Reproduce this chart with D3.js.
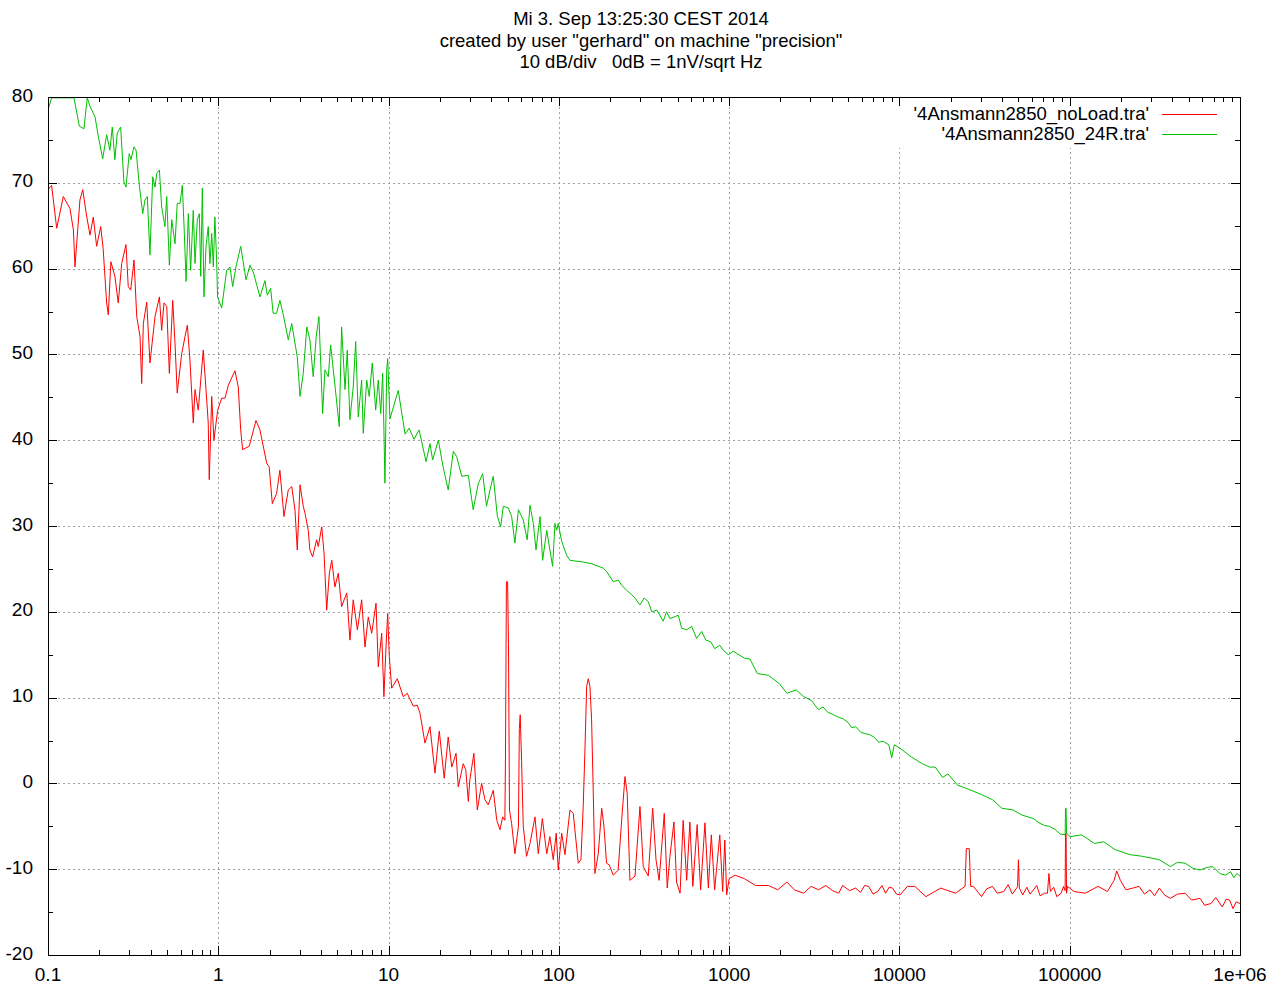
<!DOCTYPE html>
<html>
<head>
<meta charset="utf-8">
<script src="https://cdn.jsdelivr.net/npm/d3@7"></script>
<style>
  body { margin: 0; background: #fff; }
  svg { display: block; }
  text { font-family: "Liberation Sans", Arial, sans-serif; fill: #000; }
</style>
</head>
<body>
<div id="chart"></div>
<script>
// title lines (gnuplot header)
let titleLines = [
  'Mi 3. Sep 13:25:30 CEST 2014',
  'created by user "gerhard" on machine "precision"',
  '10 dB/div   0dB = 1nV/sqrt Hz'
]

let xTicks = [0.1, 1, 10, 100, 1000, 10000, 100000, 1000000]
let xTickLabels = ['0.1', '1', '10', '100', '1000', '10000', '100000', '1e+06']
let yTicks = [-20, -10, 0, 10, 20, 30, 40, 50, 60, 70, 80]

let seriesNames = ["'4Ansmann2850_noLoad.tra'", "'4Ansmann2850_24R.tra'"]
let seriesColors = ['#ff0000', '#00c000']

// [frequency Hz, dB]
let noLoad = [
  [0.1, 69.2], [0.105, 69.7], [0.1125, 64.7], [0.123, 68.4], [0.1346, 67.0], [0.141, 64.5],
  [0.144, 60.2], [0.154, 68.0], [0.16, 69.2], [0.169, 66.0], [0.1765, 63.9], [0.1845, 66.0],
  [0.193, 62.6], [0.204, 64.9], [0.211, 62.2], [0.221, 56.0], [0.226, 54.6], [0.234, 60.8],
  [0.247, 59.1], [0.2585, 56.0], [0.271, 60.6], [0.287, 62.8], [0.296, 57.9], [0.306, 57.5],
  [0.32, 61.0], [0.332, 54.4], [0.347, 52.1], [0.355, 46.6], [0.363, 53.6], [0.38, 56.1],
  [0.397, 49.0], [0.425, 54.4], [0.451, 56.7], [0.465, 52.8], [0.48, 56.0], [0.498, 55.6],
  [0.516, 47.8], [0.54, 56.3], [0.557, 51.3], [0.574, 45.5], [0.61, 50.1], [0.638, 52.1],
  [0.658, 53.4], [0.682, 49.3], [0.713, 42.0], [0.73, 45.9], [0.763, 43.5], [0.816, 50.5],
  [0.847, 45.9], [0.873, 42.0], [0.885, 35.4], [0.915, 45.1], [0.943, 40.0], [0.97, 42.0],
  [0.992, 43.5],
  [1.047, 44.9], [1.095, 44.9], [1.145, 46.4], [1.253, 48.1], [1.31, 46.2], [1.354, 41.2],
  [1.39, 38.9], [1.52, 39.3], [1.664, 42.3], [1.757, 41.2], [1.925, 37.3], [1.99, 36.9],
  [2.076, 32.6], [2.2, 33.8], [2.3, 36.5], [2.43, 31.1], [2.576, 34.2], [2.7, 34.6],
  [2.82, 31.9], [2.91, 27.2], [3.02, 34.8], [3.155, 32.3], [3.23, 31.5], [3.376, 29.5],
  [3.45, 27.2], [3.58, 26.4], [3.78, 28.4], [3.865, 27.6], [4.05, 29.9], [4.18, 26.8],
  [4.33, 20.2], [4.49, 24.5], [4.64, 26.0], [4.84, 22.9], [5.065, 24.5], [5.3, 20.6],
  [5.68, 22.2], [5.93, 16.7], [6.2, 21.4], [6.56, 17.9], [6.95, 21.4], [7.27, 15.9],
  [7.6, 19.4], [7.96, 17.5], [8.44, 21.0], [8.7, 13.6], [9.11, 17.5], [9.39, 10.1],
  [9.66, 15.9], [9.88, 19.8],
  [10.1, 14.8], [10.43, 11.1], [11.25, 12.2], [12.2, 10.1], [12.87, 10.5], [13.97, 9.0],
  [14.74, 9.1], [15.29, 8.2], [16.36, 4.7], [17.5, 6.6], [18.73, 1.2], [19.85, 6.1],
  [21.22, 0.6], [22.4, 5.4], [23.5, 1.9], [24.9, 3.5], [25.66, -0.4], [27.45, 2.3],
  [28.4, 1.6], [29.4, -2.1], [30.0, 0.4], [31.7, 3.5], [33.2, -3.1], [35.2, 0.0],
  [36.8, -1.9], [38.5, -2.5], [41.2, -0.8], [43.2, -4.3], [45.1, -5.4], [46.8, -3.9],
  [48.2, -4.3], [48.6, 3.3], [49.2, 23.5], [50.0, 23.5], [50.6, 16.3], [51.3, -3.1],
  [52.8, -4.7], [55.2, -8.2], [57.9, -5.0], [58.6, 6.4], [59.3, 8.0], [60.4, 2.7],
  [61.8, -5.0], [64.6, -8.5], [67.7, -7.0], [72.4, -3.9], [75.7, -8.2], [80.0, -4.1],
  [84.9, -8.2], [88.6, -6.2], [92.7, -8.9], [96.5, -5.8], [99.2, -10.1],
  [103.9, -5.8], [108.6, -8.3], [116.2, -3.1], [121.5, -3.5], [130, -9.3], [134.8, -8.9],
  [139, -2.7], [142.3, 3.9], [145.6, 11.3], [148.8, 12.2], [152.3, 11.3], [155.7, 7.4],
  [159.3, -1.2], [162.9, -10.5], [170.4, -8.2], [178.5, -2.9], [184, -5.0], [190.6, -9.3],
  [197.7, -9.5], [208.7, -10.7], [223, -10.1], [233.8, -4.3], [244.5, 0.8], [252, -1.2],
  [261.5, -11.3], [280, -10.8], [299.4, -2.7], [313, -9.7], [335, -10.8], [355.6, -2.9],
  [372, -8.9], [388, -11.3], [416, -3.5], [433, -12.2], [449, -8.5], [474, -4.5],
  [491, -11.5], [515, -12.8], [537, -4.3], [563, -11.3], [588, -4.5], [612, -12.0],
  [649, -4.8], [680, -12.4], [721, -4.6], [755, -12.2], [786, -6.0], [822, -12.4],
  [881, -6.0], [916, -12.6], [943, -6.6], [967, -13.0], [1000, -11.1],
  [1084, -10.7], [1228, -11.1], [1429, -11.9], [1701, -11.9], [1929, -12.4], [2185, -11.5],
  [2414, -12.4], [2738, -12.8], [3027, -12.0], [3350, -12.4], [3693, -11.9], [4050, -12.5],
  [4404, -12.8], [4636, -11.9], [5100, -12.5], [5530, -12.2], [5900, -12.7], [6250, -11.9],
  [6590, -12.0], [7000, -12.9], [7460, -12.6], [7900, -11.9], [8300, -12.8], [8700, -12.1],
  [9120, -12.2], [9600, -12.9],
  [10080, -13.0], [11140, -12.0], [12320, -12.0], [14300, -13.2], [17470, -12.2],
  [21380, -12.8], [24300, -12.0], [24700, -7.6], [25700, -7.6], [26200, -12.0],
  [27200, -12.0], [30350, -13.2], [32500, -12.3], [35230, -12.0], [37500, -12.8],
  [40950, -12.6], [43500, -11.8], [46000, -12.9], [48800, -12.2], [49400, -12.0],
  [50000, -8.9], [50600, -12.2], [53000, -13.0], [56000, -12.1], [58500, -12.9],
  [61270, -12.4], [64000, -11.9], [67000, -13.1], [71020, -12.8], [74000, -12.8],
  [75500, -10.5], [77000, -12.6], [80500, -12.1], [84000, -13.2], [89000, -12.8],
  [92000, -12.0], [94000, -12.5], [94500, -5.8], [95200, -5.8], [95800, -12.8],
  [97000, -12.0],
  [106100, -12.6], [123300, -12.8], [146800, -12.0], [166500, -12.6], [182300, -11.3],
  [188800, -10.2], [198400, -11.3], [213800, -12.4], [235000, -12.2], [255200, -12.0],
  [275000, -12.9], [296000, -12.4], [315000, -13.1], [336000, -12.2], [360000, -13.0],
  [390000, -13.4], [430000, -12.9], [476000, -12.8], [520000, -13.6], [583000, -13.4],
  [620000, -14.2], [676000, -14.0], [720000, -13.3], [787000, -14.4], [830000, -13.5],
  [869000, -13.6], [910000, -14.6], [950000, -13.8], [1000000, -14.0]
]

let load24R = [
  [0.1, 78.5], [0.105, 79.9], [0.142, 79.9], [0.1527, 76.6], [0.1626, 76.3], [0.17, 79.9],
  [0.1765, 78.9], [0.1888, 77.7], [0.1975, 75.4], [0.2095, 72.8], [0.221, 75.6], [0.231, 73.8],
  [0.2385, 76.5], [0.247, 72.7], [0.2552, 75.8], [0.267, 76.5], [0.279, 70.1], [0.287, 69.5],
  [0.3, 73.4], [0.307, 72.7], [0.32, 74.2], [0.329, 73.8], [0.343, 69.9], [0.36, 66.4],
  [0.371, 68.0], [0.383, 68.4], [0.397, 61.6], [0.412, 70.7], [0.425, 69.5], [0.435, 71.1],
  [0.451, 71.5], [0.465, 67.2], [0.486, 64.9], [0.498, 68.4], [0.516, 60.4], [0.533, 65.7],
  [0.557, 62.9], [0.574, 67.6], [0.596, 67.6], [0.615, 69.7], [0.632, 64.1], [0.647, 58.5],
  [0.667, 66.4], [0.688, 59.8], [0.713, 66.8], [0.73, 60.6], [0.753, 65.7], [0.774, 66.4],
  [0.789, 59.1], [0.806, 69.4], [0.824, 56.7], [0.847, 62.6], [0.873, 64.9], [0.893, 60.6],
  [0.915, 64.1], [0.935, 60.2], [0.955, 66.0], [0.978, 61.0], [0.99, 56.7],
  [1.047, 55.4], [1.12, 59.8], [1.171, 60.2], [1.215, 57.9], [1.27, 60.2], [1.354, 62.6],
  [1.455, 58.7], [1.535, 60.4], [1.605, 59.6], [1.757, 56.7], [1.88, 58.6], [1.94, 56.9],
  [2.03, 57.7], [2.1, 54.8], [2.2, 54.8], [2.3, 56.3], [2.41, 54.6], [2.576, 51.7],
  [2.7, 53.6], [2.91, 49.7], [3.02, 45.1], [3.155, 47.8], [3.31, 53.2], [3.45, 51.7],
  [3.61, 47.4], [3.76, 52.1], [3.9, 54.4], [4.1, 43.1], [4.23, 48.2], [4.425, 47.4],
  [4.57, 51.1], [4.734, 48.2], [4.92, 45.1], [5.13, 41.6], [5.3, 53.2], [5.55, 45.9],
  [5.72, 50.5], [5.93, 42.4], [6.2, 46.2], [6.41, 51.5], [6.64, 42.7], [6.95, 47.0],
  [7.1, 40.8], [7.44, 47.0], [7.7, 45.1], [8.02, 49.0], [8.4, 43.5], [8.7, 47.0],
  [9.0, 43.1], [9.23, 47.8], [9.39, 41.2], [9.52, 35.0], [9.75, 48.2], [9.88, 49.5],
  [10.19, 42.5], [11.4, 45.8], [12.5, 40.7], [13.2, 41.4], [14.1, 40.1], [15.1, 41.2],
  [16.6, 37.5], [17.5, 39.6], [18.15, 37.7], [19.6, 40.0], [20.9, 36.9], [22.4, 34.2],
  [24.0, 38.7], [25.1, 38.1], [26.9, 35.8], [29.4, 35.9], [31.4, 31.9], [33.6, 34.9],
  [35.7, 36.1], [37.6, 32.3], [39.4, 34.2], [41.2, 35.8], [43.5, 31.2], [45.5, 29.9],
  [47.2, 32.3], [50.5, 32.1], [52.8, 31.1], [55.2, 28.0], [57.9, 31.9], [61.8, 30.7],
  [65.2, 28.4], [67.7, 32.4], [70.8, 30.3], [73.4, 27.2], [77.5, 31.1], [80.3, 26.0],
  [84.9, 29.5], [88.6, 27.2], [91.9, 25.3], [94.9, 30.3], [97.1, 29.5], [99.2, 30.3],
  [103.9, 28.2], [111.1, 26.6], [116.2, 26.0], [139, 25.8], [155.7, 25.6], [182, 25.1],
  [190.6, 24.7], [208.7, 23.5], [223, 23.7], [233.8, 23.1], [250, 22.5], [267.5, 22.0],
  [280, 21.6], [299.4, 20.8], [317, 21.6], [335, 21.2], [351, 20.0], [376, 20.2],
  [410, 18.9], [429, 20.0], [449, 19.2], [503, 19.6], [526, 18.1], [563, 17.9],
  [602, 18.3], [644, 16.9], [690, 17.7], [730, 16.7], [780, 16.5], [822, 15.7],
  [881, 16.1], [925, 15.5], [989, 15.0],
  [1057, 15.4], [1228, 14.6], [1325, 14.5], [1464, 12.8], [1701, 12.6], [1977, 11.6],
  [2185, 10.5], [2478, 10.9], [2738, 10.1], [3027, 9.7], [3345, 8.6], [3560, 8.9],
  [3795, 8.3], [4100, 8.0], [4404, 7.7], [4700, 7.5], [4990, 7.1], [5250, 6.5],
  [5530, 6.6], [5900, 6.0], [6250, 5.8], [6650, 5.7], [7090, 5.4], [7550, 4.8],
  [8030, 4.9], [8660, 4.5], [9010, 3.0], [9330, 4.5],
  [10080, 4.1], [11710, 3.1], [13610, 2.3], [15040, 1.9], [16230, 1.9], [17920, 0.7],
  [19290, 1.1], [21920, -0.2], [24850, -0.6], [30350, -1.3], [35230, -1.9], [39990, -2.9],
  [46500, -3.1], [52600, -3.7], [61270, -4.1], [66000, -4.6], [71020, -4.9], [76000, -5.0],
  [82400, -5.4], [88000, -5.9], [94000, -6.0], [94500, -2.9], [95200, -2.9], [95800, -5.8],
  [100400, -6.2], [117300, -6.0], [139700, -7.0], [158400, -6.8], [184000, -7.7],
  [224800, -8.3], [268000, -8.5], [300000, -8.7], [336000, -8.9], [390000, -9.7],
  [430000, -9.2], [476000, -9.3], [530000, -9.9], [583000, -10.1], [640000, -9.8],
  [694000, -9.7], [760000, -10.5], [824000, -10.7], [880000, -10.3], [920000, -11.0],
  [959000, -10.5], [1000000, -10.8]
]

let margin = { top: 97, left: 48, right: 37, bottom: 30 }
let width = 1277 - margin.left - margin.right
let height = 985 - margin.top - margin.bottom
let labelSize = 18.5

let svg = d3.select('#chart')
  .append('svg')
  .attr('width', 1277)
  .attr('height', 985)

let xScale = d3.scaleLog().domain([0.1, 1e6]).range([0, width])
let yScale = d3.scaleLinear().domain([-20, 80]).range([height, 0])

// header
svg.selectAll('.title-line')
  .data(titleLines)
  .enter()
  .append('text')
  .attr('class', 'title-line')
  .attr('x', 641)
  .attr('y', (d, i) => 25 + i * 21.5)
  .attr('text-anchor', 'middle')
  .attr('font-size', labelSize)
  .style('white-space', 'pre')
  .text(d => d)

let g = svg.append('g')
  .attr('transform', `translate(${margin.left},${margin.top})`)

// grid
let gridColor = '#a0a0a0'
g.selectAll('.hgrid')
  .data(yTicks.slice(1, -1))
  .enter()
  .append('line')
  .attr('x1', 0)
  .attr('x2', width)
  .attr('y1', d => Math.round(yScale(d)) + 0.5)
  .attr('y2', d => Math.round(yScale(d)) + 0.5)
  .attr('stroke', gridColor)
  .attr('stroke-dasharray', '2,3')

g.selectAll('.vgrid')
  .data(xTicks.slice(1, -1))
  .enter()
  .append('line')
  .attr('x1', d => Math.round(xScale(d)) + 0.5)
  .attr('x2', d => Math.round(xScale(d)) + 0.5)
  .attr('y1', 0)
  .attr('y2', height)
  .attr('stroke', gridColor)
  .attr('stroke-dasharray', '2,3')

// key area is opaque
g.append('rect')
  .attr('x', width - 345)
  .attr('y', 1)
  .attr('width', 342)
  .attr('height', 50)
  .attr('fill', '#fff')

// curves
let line = d3.line()
  .x(d => xScale(d[0]))
  .y(d => yScale(d[1]))

g.append('clipPath')
  .attr('id', 'plot-clip')
  .append('rect')
  .attr('width', width)
  .attr('height', height)

g.selectAll('.trace')
  .data([noLoad, load24R])
  .enter()
  .append('path')
  .attr('class', 'trace')
  .attr('clip-path', 'url(#plot-clip)')
  .attr('d', line)
  .attr('fill', 'none')
  .attr('stroke', (d, i) => seriesColors[i])
  .attr('stroke-width', 1)
  .attr('stroke-linejoin', 'round')

// ticks, mirrored on both sides
let yMinor = d3.range(-15, 80, 10)
let xMinor = []
xTicks.slice(0, -1).forEach(t => {
  for (let k = 2; k <= 9; k++) xMinor.push(t * k)
})

let tickG = g.append('g').attr('stroke', '#000').attr('stroke-width', 1)
yTicks.forEach(t => {
  let y = Math.round(yScale(t)) + 0.5
  tickG.append('line').attr('x1', 0).attr('x2', 9).attr('y1', y).attr('y2', y)
  tickG.append('line').attr('x1', width - 9).attr('x2', width).attr('y1', y).attr('y2', y)
})
yMinor.forEach(t => {
  let y = Math.round(yScale(t)) + 0.5
  tickG.append('line').attr('x1', 0).attr('x2', 5).attr('y1', y).attr('y2', y)
  tickG.append('line').attr('x1', width - 5).attr('x2', width).attr('y1', y).attr('y2', y)
})
xTicks.forEach(t => {
  let x = Math.round(xScale(t)) + 0.5
  tickG.append('line').attr('x1', x).attr('x2', x).attr('y1', height).attr('y2', height - 9)
  tickG.append('line').attr('x1', x).attr('x2', x).attr('y1', 0).attr('y2', 9)
})
xMinor.forEach(t => {
  let x = Math.round(xScale(t)) + 0.5
  tickG.append('line').attr('x1', x).attr('x2', x).attr('y1', height).attr('y2', height - 5)
  tickG.append('line').attr('x1', x).attr('x2', x).attr('y1', 0).attr('y2', 5)
})

// border
g.append('rect')
  .attr('x', 0.5)
  .attr('y', 0.5)
  .attr('width', width)
  .attr('height', height)
  .attr('fill', 'none')
  .attr('stroke', '#000')

// tick labels
g.selectAll('.ylabel')
  .data(yTicks)
  .enter()
  .append('text')
  .attr('x', -15)
  .attr('y', d => yScale(d) - 2)
  .attr('dy', '0.35em')
  .attr('text-anchor', 'end')
  .attr('font-size', 19)
  .text(d => d)

g.selectAll('.xlabel')
  .data(xTicks)
  .enter()
  .append('text')
  .attr('x', d => xScale(d))
  .attr('y', height + 26)
  .attr('text-anchor', 'middle')
  .attr('font-size', 19)
  .text((d, i) => xTickLabels[i])

// key
let key = g.selectAll('.key')
  .data(seriesNames)
  .enter()
  .append('g')
  .attr('transform', (d, i) => `translate(0,${17 + i * 20})`)

key.append('text')
  .attr('x', width - 91)
  .attr('dy', '0.35em')
  .attr('text-anchor', 'end')
  .attr('font-size', labelSize)
  .text(d => d)

key.append('line')
  .attr('x1', width - 78)
  .attr('x2', width - 23)
  .attr('y1', 0.5)
  .attr('y2', 0.5)
  .attr('stroke', (d, i) => seriesColors[i])
</script>
</body>
</html>
